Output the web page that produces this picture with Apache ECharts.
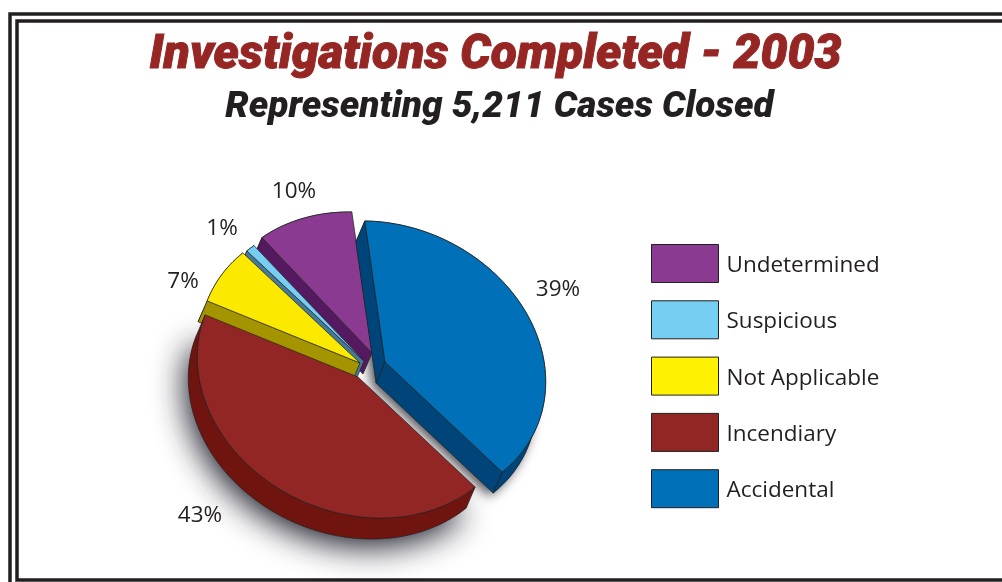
<!DOCTYPE html>
<html>
<head>
<meta charset="utf-8">
<title>Investigations Completed - 2003</title>
<script src="https://cdn.jsdelivr.net/npm/echarts@6/dist/echarts.min.js"></script>
<style>
html, body { margin: 0; padding: 0; background: #fff; overflow: hidden; }
#chart { width: 1002px; height: 582px; }
</style>
</head>
<body>
<div id="chart"></div>
<script>
// legend order, which is also the back to front drawing order
var categories = ['Undetermined', 'Suspicious', 'Not Applicable', 'Incendiary', 'Accidental'];
var percents = [10, 1, 7, 43, 39];

var topColors = ['#8a3b91', '#76cef3', '#fbe900', '#922625', '#0070b8'];
var sideColors = ['#54195f', '#44799a', '#a39400', '#701410', '#00457a'];
var legendColors = ['#8a3b91', '#76cef3', '#fff200', '#922625', '#0070b8'];

// where each slice's point sits after exploding, and its percent label
var apexes = [[372, 353], [364, 361], [360, 363], [358, 377], [385, 362]];
var labelAt = [[294, 192], [222, 229], [183, 282], [200, 516], [558, 290]];

// the tilted disc: a rotated ellipse, plus the thickness direction
var radiusA = 165, radiusB = 136, tilt = 23.6 * Math.PI / 180;
var depth = [-9, 21];
var firstAngle = 243; // slices run backwards round the disc from here, degrees

var total = percents.reduce(function (a, b) { return a + b; }, 0);

function sliceAngles(i) {
	var before = 0;
	for (var k = 0; k < i; k++) before += percents[k];
	return [
		(firstAngle - (before + percents[i]) / total * 360) * Math.PI / 180,
		(firstAngle - before / total * 360) * Math.PI / 180
	];
}

function onDisc(apex, t) {
	var x = radiusA * Math.cos(t), y = radiusB * Math.sin(t);
	return [
		apex[0] + x * Math.cos(tilt) - y * Math.sin(tilt),
		apex[1] + x * Math.sin(tilt) + y * Math.cos(tilt)
	];
}

function shifted(p) { return [p[0] + depth[0], p[1] + depth[1]]; }

function arcPoints(i) {
	var range = sliceAngles(i), pts = [];
	var steps = Math.max(4, Math.round(percents[i] * 2));
	for (var s = 0; s <= steps; s++) {
		pts.push(onDisc(apexes[i], range[0] + (range[1] - range[0]) * s / steps));
	}
	return pts;
}

function poly(points, fill) {
	return {
		type: 'polygon',
		shape: { points: points },
		style: { fill: fill, stroke: '#231f20', lineWidth: 0.7, lineJoin: 'round' }
	};
}

function cross(o, a, bx, by) {
	return (a[0] - o[0]) * by - (a[1] - o[1]) * bx;
}

// a cut face shows only if the thickness points away from the slice
function faceShows(apex, edge, mid) {
	var toMid = cross(apex, edge, mid[0] - apex[0], mid[1] - apex[1]);
	var toDepth = cross(apex, edge, depth[0], depth[1]);
	return toMid * toDepth < 0;
}

function renderSlice(params, api) {
	var i = api.value(1);
	var apex = apexes[i], arc = arcPoints(i), last = arc[arc.length - 1];
	var mid = arc[Math.floor(arc.length / 2)];
	var side = sideColors[i];
	var children = [poly(arc.concat(arc.map(shifted).reverse()), side)];
	[arc[0], last].forEach(function (edge) {
		if (faceShows(apex, edge, mid)) {
			children.push(poly([apex, edge, shifted(edge), shifted(apex)], side));
		}
	});
	children.push(poly([apex].concat(arc), topColors[i]));
	children.push({
		type: 'text',
		style: {
			x: labelAt[i][0], y: labelAt[i][1],
			text: api.value(0) + '%',
			fill: '#231f20',
			font: '22.5px "Open Sans"',
			align: 'center', verticalAlign: 'middle'
		}
	});
	return { type: 'group', children: children };
}

// soft shadow under the big slices, drawn once before all of them
function renderShadow(params, api) {
	var i = api.value(1);
	var arc = arcPoints(i);
	var body = [apexes[i]].concat(arc).map(shifted);
	return {
		type: 'polygon',
		shape: { points: body },
		style: {
			fill: '#6d6e70',
			shadowBlur: i === 3 ? 32 : 12,
			shadowColor: i === 3 ? 'rgba(15,15,30,0.95)' : 'rgba(20,20,30,0.75)',
			shadowOffsetX: i === 3 ? -3 : -4,
			shadowOffsetY: i === 3 ? 8 : 3
		}
	};
}

var series = [{
	name: 'shadow',
	type: 'custom',
	coordinateSystem: 'none',
	silent: true,
	renderItem: renderShadow,
	data: [[percents[4], 4], [percents[3], 3]]
}];
categories.forEach(function (name, i) {
	series.push({
		name: name,
		type: 'custom',
		coordinateSystem: 'none',
		silent: true,
		renderItem: renderSlice,
		data: [[percents[i], i]]
	});
});

var myChart = echarts.init(document.getElementById('chart'), null, { renderer: 'canvas' });

var option = {
	animation: false,
	backgroundColor: '#fff',
	title: [
		{
			text: 'Investigations Completed - 2003',
			left: 490.5, top: 27, textAlign: 'center',
			textStyle: {
				fontFamily: 'Roboto', fontStyle: 'italic', fontWeight: 900,
				fontSize: 48, color: '#962624',
				textBorderColor: '#962624', textBorderWidth: 1
			}
		},
		{
			text: 'Representing 5,211 Cases Closed',
			left: 494.5, top: 84, textAlign: 'center',
			textStyle: {
				fontFamily: 'Roboto', fontStyle: 'italic', fontWeight: 900,
				fontSize: 37, color: '#231f20'
			}
		}
	],
	legend: {
		orient: 'vertical',
		left: 651, top: 244,
		padding: 0,
		itemWidth: 67, itemHeight: 38, itemGap: 17.3,
		selectedMode: false,
		formatter: '{t|{name}}',
		textStyle: {
			fontFamily: 'Open Sans', fontSize: 22.5, color: '#231f20',
			rich: {
				t: {
					fontFamily: 'Open Sans', fontSize: 22.5, color: '#231f20',
					padding: [4, 0, 0, 3]
				}
			}
		},
		data: categories.map(function (name, i) {
			return {
				name: name,
				icon: 'rect',
				itemStyle: { color: legendColors[i], borderColor: '#231f20', borderWidth: 1 }
			};
		})
	},
	graphic: [
		{ type: 'rect', shape: { x: 10, y: 14, width: 1100, height: 700 },
			style: { fill: null, stroke: '#231f20', lineWidth: 3.5 } },
		{ type: 'rect', shape: { x: 17, y: 21, width: 1100, height: 559 },
			style: { fill: null, stroke: '#231f20', lineWidth: 3.5 } }
	],
	series: series
};

myChart.setOption(option);
</script>
</body>
</html>
